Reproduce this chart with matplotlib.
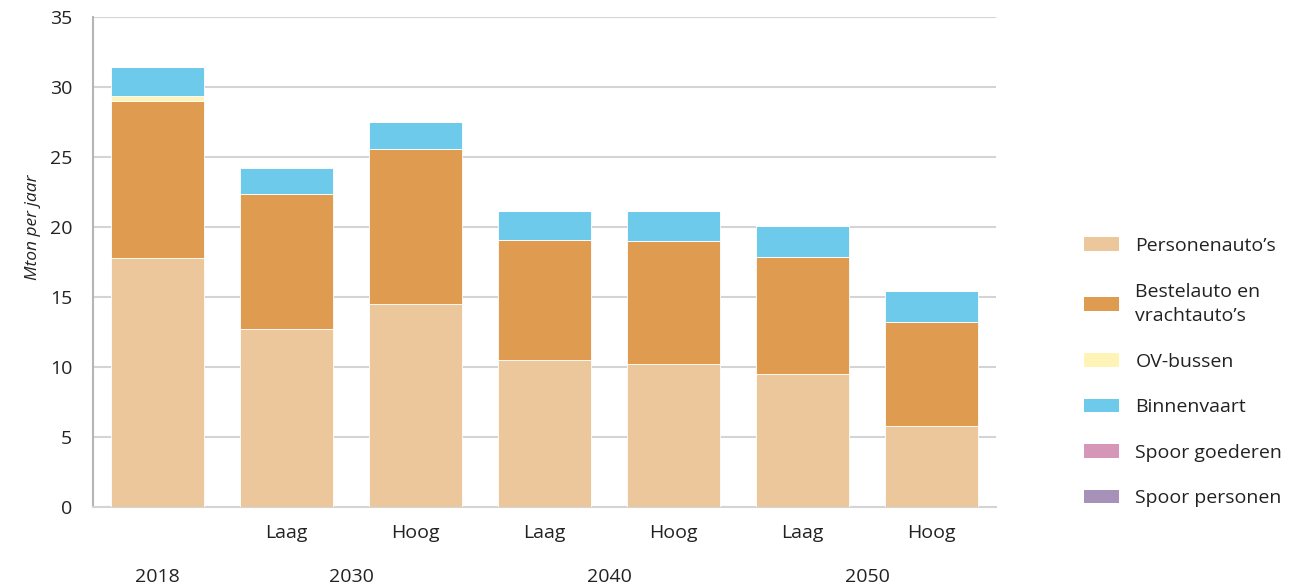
import matplotlib
matplotlib.use("Agg")
import matplotlib.pyplot as plt
import numpy as np
from matplotlib.patches import Patch
from matplotlib.transforms import blended_transform_factory

plt.rcParams['font.family'] = ['Open Sans', 'DejaVu Sans']

# Scenario bars: 2018, then Laag/Hoog for 2030, 2040, 2050
scenario_labels = ["", "Laag", "Hoog", "Laag", "Hoog", "Laag", "Hoog"]
year_labels = ["2018", "2030", "2040", "2050"]
year_positions = [0, 1.5, 3.5, 5.5]

series_names = ["Personenauto\u2019s", "Bestelauto en\nvrachtauto\u2019s", "OV-bussen",
                "Binnenvaart", "Spoor goederen", "Spoor personen"]
personenautos = [17.8, 12.7, 14.5, 10.5, 10.2, 9.5, 5.8]
bestel_vracht = [11.2, 9.65, 11.05, 8.6, 8.8, 8.35, 7.4]
ov_bussen = [0.35, 0.0, 0.0, 0.0, 0.0, 0.0, 0.0]
binnenvaart = [2.1, 1.9, 1.95, 2.05, 2.15, 2.2, 2.2]
spoor_goederen = [0.0, 0.05, 0.0, 0.0, 0.0, 0.0, 0.05]
spoor_personen = [0.0, 0.0, 0.0, 0.0, 0.0, 0.0, 0.0]

colors = ["#ECC79C", "#DF9B50", "#FFF4B8", "#6DCAEA", "#D696B8", "#A692B8"]

series = [personenautos, bestel_vracht, ov_bussen, binnenvaart, spoor_goederen, spoor_personen]

fig = plt.figure(figsize=(12.91, 5.88), dpi=100)
ax = fig.add_axes([0.072, 0.1378, 0.6995, 0.8332])

x = np.arange(len(scenario_labels))
bottom = np.zeros(len(x))
for vals, col in zip(series, colors):
    vals = np.array(vals)
    ax.bar(x, vals, width=0.72, bottom=bottom, color=col, edgecolor="white",
           linewidth=0.6, zorder=3)
    bottom += vals

ax.set_xlim(-0.5, 6.5)
ax.set_ylim(0, 35)
ax.set_yticks(np.arange(0, 36, 5))
ax.yaxis.grid(True, color="#d4d4d4", linewidth=1.5, zorder=0)
ax.set_axisbelow(True)
for s in ["top", "right"]:
    ax.spines[s].set_visible(False)
ax.spines["left"].set_color("#b5b5b5")
ax.spines["left"].set_linewidth(1.5)
ax.spines["bottom"].set_color("#d4d4d4")
ax.spines["bottom"].set_linewidth(1.5)
ax.tick_params(axis="both", length=0, labelsize=14, colors="#222222")
ax.tick_params(axis="y", pad=15)
ax.set_xticks(x)
ax.set_xticklabels(scenario_labels)
ax.tick_params(axis="x", pad=12)

trans = blended_transform_factory(ax.transData, fig.transFigure)
for pos, lab in zip(year_positions, year_labels):
    ax.text(pos, (588 - 577) / 588, lab, transform=trans, ha="center", va="center",
            fontsize=14, color="#222222")

fig.text(33 / 1291, (588 - 227) / 588, "Mton per jaar", rotation=90, ha="center",
         va="center", fontsize=12.5, style="italic", color="#222222")

handles = [Patch(facecolor=c, edgecolor="none") for c in colors]
leg = fig.legend(handles, series_names, loc="center left", bbox_to_anchor=(0.826, 0.367),
                 frameon=False, fontsize=14, handlelength=1.8, handleheight=0.7,
                 labelspacing=1.42, handletextpad=0.85, labelcolor="#222222")
for t in leg.get_texts():
    t.set_linespacing(1.45)

fig.savefig("out.png", dpi=100)
